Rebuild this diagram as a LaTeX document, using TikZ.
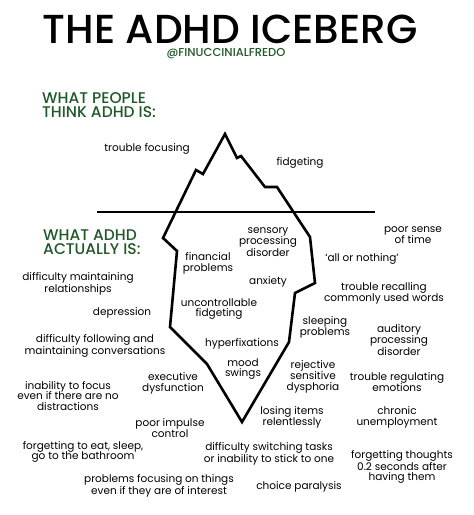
\documentclass[tikz,border=0pt]{standalone}
\usepackage{fontspec}
\setmainfont{Poppins}
\newfontfamily\medfont{Poppins Medium}
\definecolor{headgreen}{RGB}{32,88,40}
\begin{document}
\begin{tikzpicture}[x=1pt, y=-1pt,
    every node/.style={inner sep=0pt, align=center,
                       font=\fontsize{10.5}{10.8}\selectfont},
    heading/.style={anchor=west, align=left, text=headgreen,
                    font=\fontsize{15.5}{14.5}\selectfont\medfont},
    outline/.style={line width=2.6pt, line join=miter}]
  \useasboundingbox (0,0) rectangle (474,515);
  % title
  \node[font=\fontsize{40.5}{40}\selectfont\medfont, anchor=base, text depth=0pt]
    (title) at (230,43) {THE ADHD ICEBERG};
  \node[text=headgreen, font=\fontsize{11.5}{12}\selectfont\medfont] (handle) at (226,54) {@FINUCCINIALFREDO};
  \node[heading] (think) at (42,105) {WHAT PEOPLE\\THINK ADHD IS:};
  \node[heading] (actual) at (43,242) {WHAT ADHD\\ACTUALLY IS:};
  % iceberg and water
  \draw[line width=2pt] (97,212) -- (375,212);
  \draw[outline] (225,134) -- (237,158) -- (241,156) -- (265,187) -- (277,187)
    -- (310,237) -- (315,283) -- (295,293) -- (289,342) -- (242,422)
    -- (207,364) -- (170,327) -- (177,251) -- (163,238) -- (196,170)
    -- (203,174) -- cycle;
  % above the water
  \node (focus) at (147,149) {trouble focusing};
  \node (fidget) at (300,163) {fidgeting};
  % below the water
  \node (sensory) at (268,242) {sensory\\processing\\disorder};
  \node (time) at (413,235) {poor sense\\of time};
  \node (money) at (208,263) {financial\\problems};
  \node (allnone) at (362,259) {‘all or nothing’};
  \node (anxiety) at (268,282) {anxiety};
  \node (relations) at (78,284) {difficulty maintaining\\relationships};
  \node (words) at (384,293) {trouble recalling\\commonly used words};
  \node (depress) at (122,313) {depression};
  \node (uncontrol) at (219,309) {uncontrollable\\fidgeting};
  \node (sleep) at (325,327) {sleeping\\problems};
  \node (auditory) at (399,340) {auditory\\processing\\disorder};
  \node (convo) at (95,346) {difficulty following and\\maintaining conversations};
  \node (hyper) at (242,344) {hyperfixations};
  \node (mood) at (243,369) {mood\\swings};
  \node (rsd) at (313,377) {rejective\\sensitive\\dysphoria};
  \node (emotion) at (397,382) {trouble regulating\\emotions};
  \node (nofocus) at (68,396) {inability to focus\\even if there are no\\distractions};
  \node (exec) at (173,383) {executive\\dysfunction};
  \node (losing) at (292,417) {losing items\\relentlessly};
  \node (unemploy) at (397,417) {chronic\\unemployment};
  \node (impulse) at (170,428) {poor impulse\\control};
  \node (forget) at (83,452) {forgetting to eat, sleep,\\go to the bathroom};
  \node (switch) at (269,454) {difficulty switching tasks\\or inability to stick to one};
  \node (thoughts) at (402,467) {forgetting thoughts\\0.2 seconds after\\having them};
  \node (interest) at (159,486) {problems focusing on things\\even if they are of interest};
  \node (choice) at (299,487) {choice paralysis};
\end{tikzpicture}
\end{document}
